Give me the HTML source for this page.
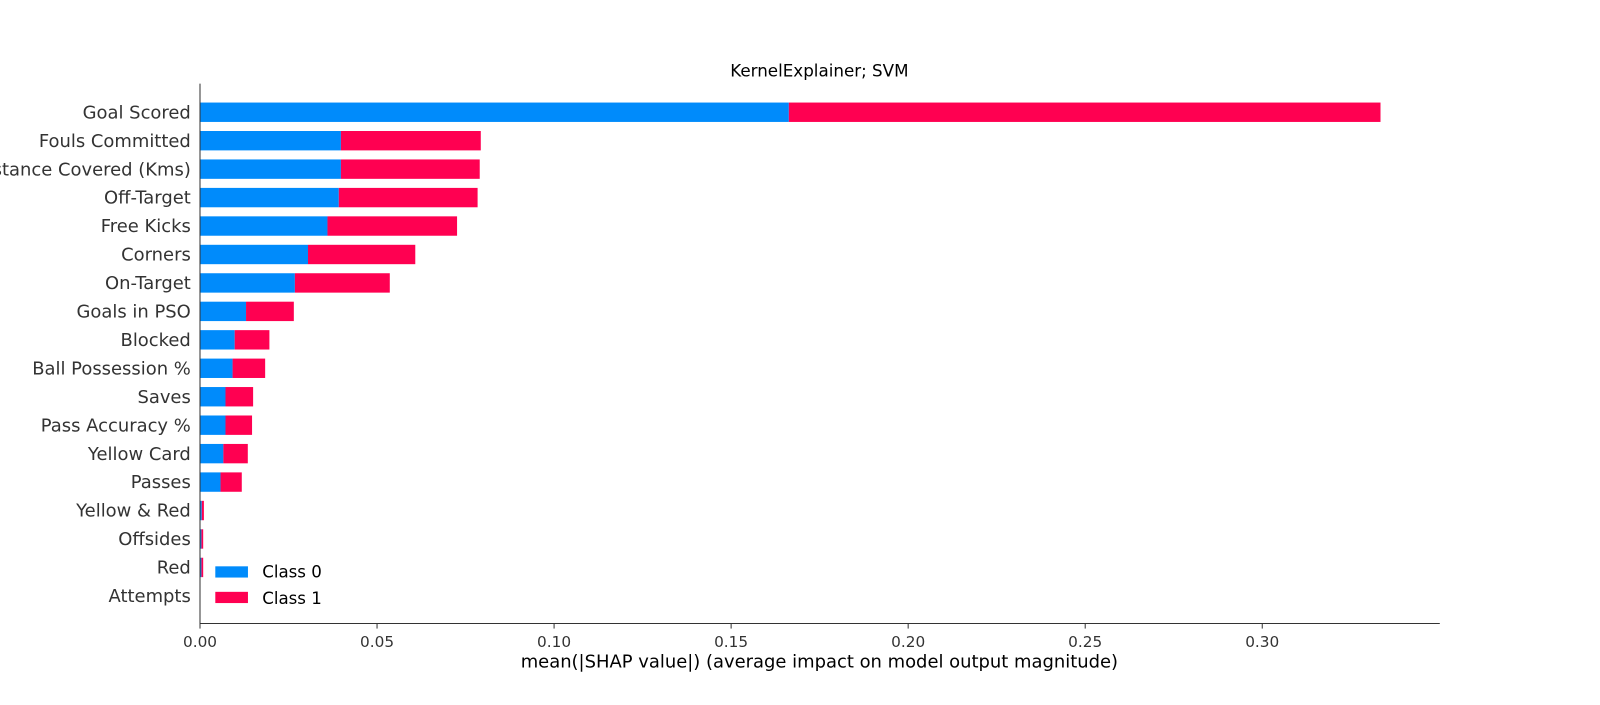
<!DOCTYPE html>
<html><head><meta charset="utf-8"><style>
body{margin:0;background:#fff;width:1600px;height:700px;overflow:hidden;font-family:"Liberation Sans","DejaVu Sans",sans-serif}
</style></head><body>
<svg id="chart" width="1600" height="700" viewBox="0 0 1568 686" preserveAspectRatio="none" xmlns="http://www.w3.org/2000/svg" font-family="DejaVu Sans, Liberation Sans, sans-serif">
<text x="803" y="75" font-size="16.4" text-anchor="middle" fill="#000">KernelExplainer; SVM</text>
<g id="bars"></g>
<g id="labels"></g>
<g id="ticks"></g>
<line x1="196" y1="82" x2="196" y2="611" stroke="#333" stroke-width="1"/>
<line x1="196" y1="611" x2="1411" y2="611" stroke="#333" stroke-width="1"/>
<text x="803" y="654" font-size="17.6" text-anchor="middle" fill="#000">mean(|SHAP value|) (average impact on model output magnitude)</text>
<g>
<rect x="211" y="555" width="32" height="11" fill="#008bfb"/>
<text x="257" y="566" font-size="16.3" fill="#000">Class 0</text>
<rect x="211" y="580" width="32" height="11" fill="#ff0051"/>
<text x="257" y="592" font-size="16.3" fill="#000">Class 1</text>
</g>
</svg>
<script>
const features=["Goal Scored","Fouls Committed","Distance Covered (Kms)","Off-Target","Free Kicks","Corners","On-Target","Goals in PSO","Blocked","Ball Possession %","Saves","Pass Accuracy %","Yellow Card","Passes","Yellow & Red","Offsides","Red","Attempts"];
const class0=[0.1663,0.0398,0.0398,0.0392,0.0360,0.0305,0.0268,0.0130,0.0098,0.0092,0.0072,0.0072,0.0066,0.0058,0.0005,0.0004,0.0004,0];
const class1=[0.1671,0.0395,0.0392,0.0392,0.0366,0.0303,0.0268,0.0135,0.0098,0.0092,0.0078,0.0075,0.0069,0.0060,0.0006,0.0005,0.0005,0];
const xTicks=[0,0.05,0.10,0.15,0.20,0.25,0.30];
const xTickLabels=["0.00","0.05","0.10","0.15","0.20","0.25","0.30"];
const NS="http://www.w3.org/2000/svg";
const x=v=>196+v*3470;
const y=i=>110+i*27.88;
const bars=document.getElementById('bars'),labels=document.getElementById('labels'),ticks=document.getElementById('ticks');
function mk(t,a){const e=document.createElementNS(NS,t);for(const k in a)e.setAttribute(k,a[k]);return e;}
features.forEach((f,i)=>{
  const h=19;
  const r0=mk('rect',{x:x(0),y:y(i)-h/2,width:x(class0[i])-x(0),height:h,fill:'#008bfb'});
  
  
  bars.appendChild(r0);
  const r1=mk('rect',{x:x(class0[i]),y:y(i)-h/2,width:x(class0[i]+class1[i])-x(class0[i]),height:h,fill:'#ff0051'});
  
  
  bars.appendChild(r1);
  const t=mk('text',{x:187,y:y(i)+6,'font-size':17.6,'text-anchor':'end',fill:'#333'});
  t.textContent=f;
  
  
  labels.appendChild(t);
});
xTicks.forEach((v,i)=>{
  const l=mk('line',{x1:x(v),x2:x(v),y1:611,y2:616,stroke:'#333'});
  
  
  ticks.appendChild(l);
  const t=mk('text',{x:x(v),y:634,'font-size':15,'text-anchor':'middle',fill:'#333'});
  t.textContent=xTickLabels[i];
  
  
  ticks.appendChild(t);
});
</script>
</body></html>
